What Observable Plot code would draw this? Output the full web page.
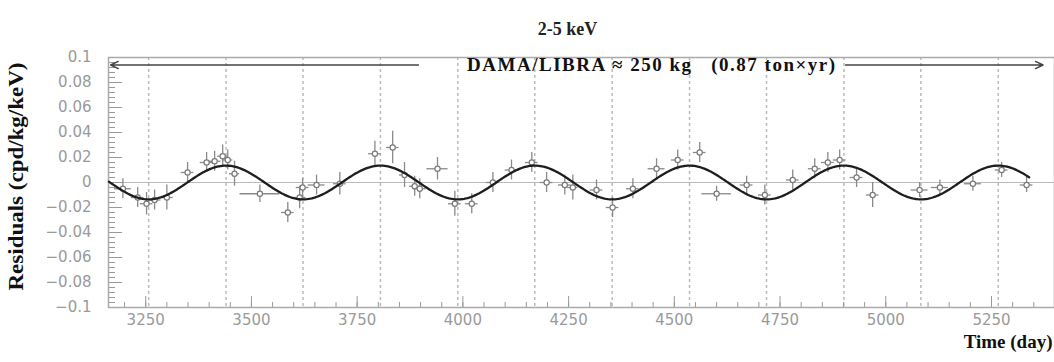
<!DOCTYPE html>
<html><head><meta charset="utf-8">
<script src="https://cdn.jsdelivr.net/npm/d3@7"></script>
<script src="https://cdn.jsdelivr.net/npm/@observablehq/plot@0.6"></script>
<style>body{margin:0;background:#fff}#chart svg{display:block}</style>
</head><body><div id="chart"></div>
<script>
// ---- data ----
const days = [3196,3231,3252,3271,3300,3349,3394,3413,3432,3444,3460,3520,3586,3614,3621,3654,3709,3792,3834,3862,3886,3898,3940,3981,4021,4071,4115,4163,4198,4241,4260,4316,4354,4402,4458,4508,4560,4600,4671,4714,4780,4832,4863,4891,4931,4969,5080,5128,5206,5274,5333];
const residuals = [-0.005,-0.012,-0.017,-0.014,-0.012,0.008,0.016,0.017,0.021,0.018,0.007,-0.009,-0.024,-0.012,-0.004,-0.002,-0.001,0.023,0.028,0.006,-0.003,-0.005,0.011,-0.017,-0.017,0.000,0.010,0.016,0.000,-0.002,-0.004,-0.006,-0.020,-0.005,0.011,0.018,0.024,-0.009,-0.002,-0.010,0.002,0.011,0.016,0.018,0.004,-0.010,-0.006,-0.004,-0.001,0.010,-0.002];
const errY = [0.008,0.008,0.009,0.008,0.010,0.008,0.008,0.008,0.009,0.008,0.010,0.007,0.008,0.009,0.007,0.008,0.009,0.010,0.013,0.010,0.008,0.008,0.009,0.010,0.008,0.008,0.008,0.008,0.008,0.008,0.010,0.008,0.008,0.008,0.008,0.008,0.008,0.006,0.007,0.008,0.008,0.008,0.008,0.008,0.008,0.010,0.006,0.006,0.006,0.006,0.006];
const errX = [20,15,15,15,15,15,15,15,12,12,12,47,15,15,15,20,15,15,15,12,12,15,25,15,15,15,15,15,15,15,12,15,15,15,20,15,15,35,15,15,15,15,15,15,15,15,20,20,20,15,15];
const markerDays = [3257,3440,3622,3805,3988,4170,4353,4536,4718,4901,5083,5266]; // Dec 2 / June 2
const xTicks = [3250,3500,3750,4000,4250,4500,4750,5000,5250];
const xMinorTicks = d3.range(3200, 5400, 50);
const yTicks = [-0.1,-0.08,-0.06,-0.04,-0.02,0,0.02,0.04,0.06,0.08,0.1];
const yTickLabels = ["\u22120.1","\u22120.08","\u22120.06","\u22120.04","\u22120.02","0","0.02","0.04","0.06","0.08","0.1"];
const yMinorTicks = d3.range(-100, 101, 4).map(v => v / 1000);
// cosine fit  A cos(w (t - t0)) : amplitude, period, phase (June 2)
const fitAmplitude = 0.0135, fitPeriod = 365.25, fitPhase = 3439.75;
const fitRange = [3163, 5340];
const titleText = "2-5 keV";
const bannerText = "DAMA/LIBRA \u2248 250 kg \u00a0 (0.87 ton\u00d7yr)";
const bannerDay = 4445, bannerValue = 0.094;
const arrowSpans = [{from: 3895, to: 3167}, {from: 4905, to: 5372}];

const points = days.map((d, i) => ({day: d, v: residuals[i], ey: errY[i], ex: errX[i]}));
const fit = d3.range(fitRange[0], fitRange[1] + 1, 4).map(t => ({t, v: fitAmplitude * Math.cos(2 * Math.PI * (t - fitPhase) / fitPeriod)}));

const grey = "#9a9a9a";
const chart = Plot.plot({
  width: 1054, height: 362,
  marginLeft: 108, marginRight: 0, marginTop: 57, marginBottom: 55,
  x: {domain: [3162, 5399]},
  y: {domain: [-0.1, 0.1]},
  style: {background: "white", fontFamily: "DejaVu Sans"},
  marks: [
    Plot.ruleY([0], {stroke: "#bbb", strokeWidth: 1.2}),
    Plot.ruleX(markerDays, {stroke: "#bbb", strokeWidth: 1.5, strokeDasharray: "3,3"}),
    Plot.axisX({ticks: xMinorTicks, tickSize: -5, tickFormat: () => "", stroke: grey, label: null}),
    Plot.axisX({ticks: xTicks, tickSize: -11, tickFormat: () => "", stroke: grey, label: null}),
    Plot.axisX({ticks: xTicks, tickSize: 0, tickPadding: 7, tickFormat: d => String(d), fill: grey, fontSize: 15, label: null, style: {letterSpacing: "1.3px"}}),
    Plot.axisY({ticks: yMinorTicks, tickSize: -7, tickFormat: () => "", stroke: grey, label: null}),
    Plot.axisY({ticks: yTicks, tickSize: -14, tickFormat: () => "", stroke: grey, label: null}),
    Plot.axisY({ticks: yTicks, tickSize: 0, tickPadding: 17, tickFormat: (d, i) => yTickLabels[i], fill: grey, fontSize: 15, label: null}),
    Plot.frame({stroke: "#aaa", strokeWidth: 1.5}),
    Plot.ruleX(points, {x: "day", y1: d => d.v - d.ey, y2: d => d.v + d.ey, stroke: "#8a8a8a", strokeWidth: 1.3}),
    Plot.ruleY(points, {y: "v", x1: d => d.day - d.ex, x2: d => d.day + d.ex, stroke: "#8a8a8a", strokeWidth: 1.3}),
    Plot.dot(points, {x: "day", y: "v", r: 2.6, stroke: "#7a7a7a", fill: "white", strokeWidth: 1.2}),
    Plot.line(fit, {x: "t", y: "v", stroke: "#1e1e1e", strokeWidth: 2.3}),
    Plot.arrow(arrowSpans, {x1: "from", x2: "to", y1: bannerValue, y2: bannerValue, stroke: "#444", strokeWidth: 1.4, headLength: 9, headAngle: 50}),
    Plot.text([bannerText], {x: bannerDay, y: bannerValue, fontFamily: "Liberation Serif", fontWeight: "bold", fontSize: 19, fill: "#111", className: "banner"}),
    Plot.text([titleText], {frameAnchor: "top", dx: -14, dy: -35, fontFamily: "Liberation Serif", fontWeight: "bold", fontSize: 18, fill: "#222"}),
    Plot.text(["Residuals (cpd/kg/keV)"], {frameAnchor: "left", textAnchor: "middle", rotate: -90, dx: -92, dy: -6, fontFamily: "Liberation Serif", fontWeight: "bold", fontSize: 20, fill: "#111", className: "ylab"}),
    Plot.text(["Time (day)"], {frameAnchor: "bottom-right", textAnchor: "end", dx: -2, dy: 40, fontFamily: "Liberation Serif", fontWeight: "bold", fontSize: 19, fill: "#111"})
  ]
});
document.getElementById("chart").appendChild(chart);
d3.select(chart).selectAll(".banner text").attr("textLength", 368).attr("lengthAdjust", "spacing");
d3.select(chart).selectAll(".ylab text").attr("textLength", 228).attr("lengthAdjust", "spacingAndGlyphs");
</script>
</body></html>
